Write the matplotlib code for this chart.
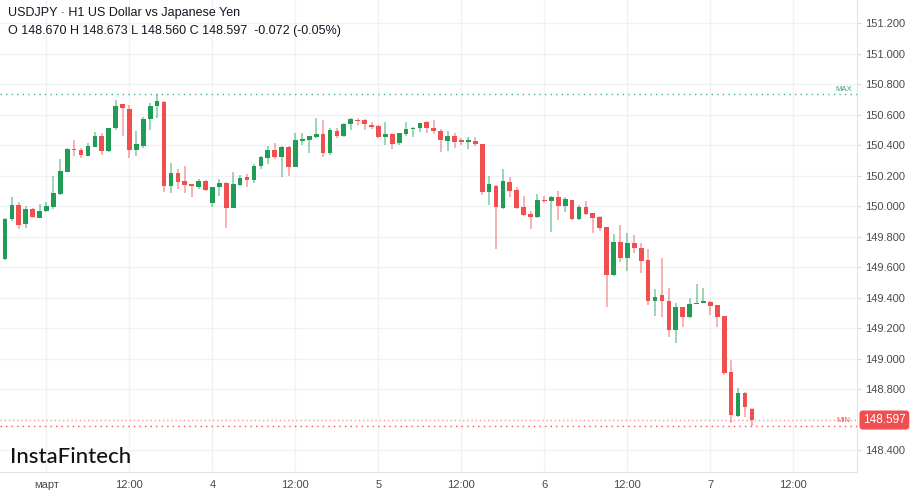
import numpy as np
import matplotlib
matplotlib.use("Agg")
import matplotlib.pyplot as plt
from matplotlib.transforms import blended_transform_factory

plt.rcParams['font.family'] = ['Liberation Sans', 'DejaVu Sans']

# USDJPY H1 candles (first one partly cut at the left edge)
opens = [149.527, 149.654, 149.916, 150.008, 149.881, 149.982, 149.925, 149.968, 149.995, 150.082,
         150.226, 150.375, 150.367, 150.331, 150.390, 150.463, 150.362, 150.511, 150.669, 150.638,
         150.369, 150.397, 150.574, 150.659, 150.686, 150.134, 150.216, 150.163, 150.144, 150.128,
         150.165, 150.019, 150.128, 150.154, 149.990, 150.139, 150.190, 150.172, 150.266, 150.318,
         150.371, 150.321, 150.390, 150.257, 150.430, 150.434, 150.452, 150.474, 150.347, 150.495,
         150.463, 150.537, 150.566, 150.566, 150.533, 150.526, 150.456, 150.474, 150.413, 150.474,
         150.505, 150.511, 150.550, 150.513, 150.495, 150.430, 150.461, 150.432, 150.421, 150.430,
         150.408, 150.095, 150.134, 149.986, 150.161, 150.106, 149.993, 149.947, 149.931, 150.041,
         150.032, 150.062, 150.003, 150.041, 149.914, 149.993, 149.953, 149.927, 149.861, 149.548,
         149.763, 149.662, 149.756, 149.727, 149.647, 149.380, 149.417, 149.380, 149.188, 149.336,
         149.275, 149.358, 149.367, 149.373, 149.352, 149.280, 148.914, 148.625, 148.772, 148.670]
highs = [149.667, 149.925, 150.058, 150.029, 150.000, 149.985, 150.017, 150.026, 150.198, 150.310,
         150.380, 150.434, 150.384, 150.413, 150.489, 150.478, 150.515, 150.697, 150.673, 150.664,
         150.495, 150.583, 150.675, 150.734, 150.690, 150.281, 150.242, 150.262, 150.146, 150.178,
         150.172, 150.128, 150.177, 150.156, 150.222, 150.205, 150.209, 150.277, 150.331, 150.397,
         150.413, 150.395, 150.392, 150.478, 150.478, 150.461, 150.577, 150.566, 150.511, 150.511,
         150.548, 150.577, 150.577, 150.572, 150.554, 150.533, 150.554, 150.478, 150.482, 150.554,
         150.518, 150.548, 150.559, 150.566, 150.506, 150.495, 150.478, 150.445, 150.452, 150.452,
         150.410, 150.198, 150.136, 150.244, 150.190, 150.128, 150.067, 149.969, 150.080, 150.067,
         150.067, 150.102, 150.058, 150.043, 150.008, 150.036, 149.955, 149.936, 149.863, 149.817,
         149.877, 149.822, 149.811, 149.756, 149.717, 149.455, 149.658, 149.461, 149.367, 149.340,
         149.396, 149.490, 149.461, 149.375, 149.354, 149.282, 148.991, 148.805, 148.783, 148.673]
lows = [149.516, 149.645, 149.903, 149.849, 149.855, 149.925, 149.921, 149.964, 149.982, 150.073,
        150.222, 150.331, 150.314, 150.331, 150.386, 150.336, 150.358, 150.500, 150.463, 150.314,
        150.329, 150.380, 150.500, 150.577, 150.095, 150.085, 150.111, 150.085, 150.062, 150.111,
        150.100, 149.997, 150.067, 149.855, 149.986, 150.134, 150.128, 150.154, 150.244, 150.277,
        150.310, 150.190, 150.200, 150.257, 150.402, 150.351, 150.445, 150.321, 150.336, 150.445,
        150.456, 150.500, 150.533, 150.500, 150.505, 150.445, 150.402, 150.373, 150.402, 150.461,
        150.456, 150.489, 150.478, 150.472, 150.358, 150.364, 150.380, 150.402, 150.375, 150.395,
        150.073, 150.008, 149.717, 149.980, 150.062, 149.980, 149.936, 149.849, 149.921, 150.019,
        149.833, 149.909, 149.964, 149.909, 149.912, 149.942, 149.822, 149.839, 149.336, 149.542,
        149.636, 149.577, 149.695, 149.564, 149.352, 149.279, 149.275, 149.144, 149.104, 149.209,
        149.264, 149.358, 149.363, 149.286, 149.209, 148.892, 148.575, 148.615, 148.615, 148.560]
closes = [149.658, 149.916, 150.008, 149.877, 149.982, 149.927, 149.971, 150.001, 150.088, 150.231,
          150.373, 150.367, 150.336, 150.397, 150.463, 150.362, 150.511, 150.659, 150.642, 150.369,
          150.408, 150.574, 150.659, 150.692, 150.134, 150.216, 150.161, 150.139, 150.130, 150.163,
          150.108, 150.126, 150.154, 149.990, 150.144, 150.187, 150.172, 150.266, 150.321, 150.371,
          150.321, 150.390, 150.259, 150.432, 150.441, 150.461, 150.474, 150.347, 150.500, 150.461,
          150.539, 150.570, 150.559, 150.537, 150.518, 150.456, 150.474, 150.408, 150.482, 150.506,
          150.511, 150.544, 150.511, 150.493, 150.434, 150.461, 150.423, 150.421, 150.432, 150.406,
          150.095, 150.144, 149.993, 150.165, 150.102, 149.986, 149.942, 149.931, 150.041, 150.032,
          150.062, 150.003, 150.047, 149.914, 149.993, 149.949, 149.924, 149.855, 149.548, 149.763,
          149.658, 149.756, 149.727, 149.642, 149.380, 149.402, 149.380, 149.188, 149.336, 149.275,
          149.356, 149.367, 149.380, 149.347, 149.275, 148.904, 148.630, 148.772, 148.680, 148.597]

x_ticks = [6, 18, 30, 42, 54, 66, 78, 90, 102, 114]
x_labels = ['март', '12:00', '4', '12:00', '5', '12:00', '6', '12:00', '7', '12:00']
y_ticks = [148.4, 148.6, 148.8, 149.0, 149.2, 149.4, 149.6, 149.8, 150.0, 150.2,
           150.4, 150.6, 150.8, 151.0, 151.2]
y_ticks = y_ticks[:1] + y_ticks[2:]  # 148.600 is hidden behind the price label
last_price = 148.597

green = '#1f9d55'
red = '#ef4f4f'

o = np.array(opens)
h = np.array(highs)
l = np.array(lows)
c = np.array(closes)
idx = np.arange(-1, len(o) - 1)
up = c >= o
cols = np.where(up, green, red)

fig = plt.figure(figsize=(9.12, 4.94), dpi=100)
ax = fig.add_axes([0, 22 / 494, 857 / 912, 472 / 494])

ax.vlines(idx, l, h, colors=cols, linewidth=1.1, alpha=0.55, zorder=2)
body_lo = np.minimum(o, c)
body_h = np.maximum(np.abs(c - o), 0.007)
ax.bar(idx, body_h, bottom=body_lo, width=0.68, color=cols, linewidth=0, zorder=3)

ax.set_xlim(-0.72, 123.2)
ax.set_ylim(148.256, 151.353)

ax.set_xticks(x_ticks)
ax.set_xticklabels(x_labels)
ax.set_yticks(y_ticks)
ax.set_yticklabels(['%.3f' % v for v in y_ticks])
ax.yaxis.tick_right()
ax.tick_params(axis='y', length=3, color='#d6d9e0', labelsize=8, labelcolor='#4a4a4a', pad=3)
ax.tick_params(axis='x', length=0, labelsize=8, labelcolor='#4a4a4a', pad=6)
ax.grid(True, color='#f0f2f6', linewidth=1)
ax.set_axisbelow(True)
for s in ['top', 'left']:
    ax.spines[s].set_visible(False)
for s in ['right', 'bottom']:
    ax.spines[s].set_color('#e0e3eb')

# max / min / last price lines
hi_max = h.max()
lo_min = l.min()
ax.axhline(hi_max, color='#3fb58a', linestyle=(0, (1, 3)), linewidth=1, zorder=1)
ax.axhline(last_price, color='#f49a9a', linestyle=(0, (1, 2)), linewidth=1, zorder=1)
ax.axhline(lo_min, color='#ef4f4f', linestyle=(0, (1, 3)), linewidth=1, zorder=1)
ax.text(121.3, hi_max + 0.03, 'MAX', color='#2aa87a', fontsize=5.5, ha='center', va='center')
ax.text(121.3, last_price - 0.005, 'MIN', color='#ef4f4f', fontsize=5.5, ha='center', va='center')

tr = blended_transform_factory(ax.transAxes, ax.transData)
ax.text(1.007, last_price, '%.3f' % last_price, transform=tr, color='white', fontsize=8.5,
        ha='left', va='center', clip_on=False,
        bbox=dict(boxstyle='round,pad=0.3,rounding_size=0.3', fc='#ef4f4f', ec='none'))

fig.text(8 / 912, 1 - 13 / 494, 'USDJPY · H1 US Dollar vs Japanese Yen', fontsize=9,
         color='#131722', va='center')
fig.text(8 / 912, 1 - 31 / 494, 'O 148.670 H 148.673 L 148.560 C 148.597  -0.072 (-0.05%)',
         fontsize=9, color='#131722', va='center')
fig.text(10 / 912, 1 - 457 / 494, 'InstaFintech', fontsize=16, fontweight='medium',
         family=['Lato', 'DejaVu Sans'], color='#111111', va='center')

fig.savefig('out.png', dpi=100)
